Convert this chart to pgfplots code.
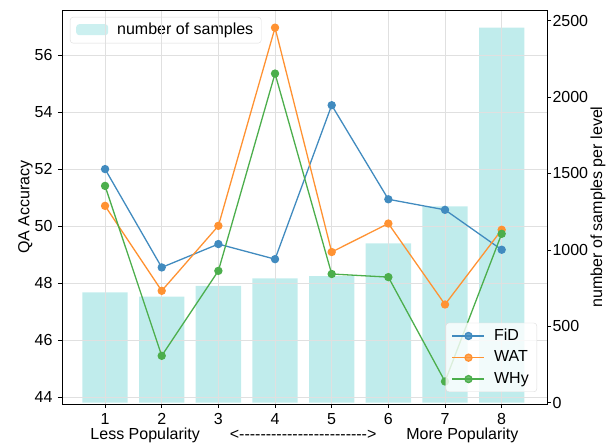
\documentclass[border=0pt]{standalone}
\usepackage{fontspec}
\setmainfont{Liberation Sans}
\usepackage{pgfplots}
\pgfplotsset{compat=1.18}

\definecolor{barc}{RGB}{192,236,236}
\definecolor{tabblue}{RGB}{31,119,180}
\definecolor{taborange}{RGB}{255,127,14}
\definecolor{tabgreen}{RGB}{44,160,44}
\definecolor{legedge}{RGB}{220,220,220}

\begin{document}
\fontsize{16}{19}\selectfont
\begin{tikzpicture}[font=\fontsize{16}{19}\selectfont]
\pgfplotsset{
  every axis/.append style={
    width=485pt, height=394pt, scale only axis,
    xmin=0.24, xmax=8.8,
    /pgf/number format/assume math mode=true,
    /pgf/number format/set thousands separator={},
    tick align=outside, major tick length=4pt,
    tick style={black, line width=0.6pt},
    axis line style={line width=0.8pt, black},
  },
  lgd/.style={
    draw=legedge, rounded corners=3pt, fill=white, fill opacity=0.8,
    text opacity=1, legend cell align=left, inner xsep=6pt, inner ysep=4pt,
    font=\fontsize{16}{19}\selectfont,
    /tikz/every odd column/.append style={column sep=7pt},
  },
}
% samples per popularity level (right axis)
\begin{axis}[
  hide x axis,
  axis y line*=right,
  ymin=-8.5, ymax=2570,
  ytick={0,500,...,2500},
  yticklabel style={xshift=-4pt},
  ylabel={number of samples per level},
  every axis y label/.style={at={(axis description cs:1,0.5)}, anchor=center,
    xshift=51pt, rotate=90},
  legend image code/.code={\fill[barc] (0pt,-5pt) rectangle (32pt,6pt);},
  legend style={lgd, at={(0,1)}, anchor=north west, xshift=8pt, yshift=-7pt},
]
\addplot[ybar, bar width=0.8, fill=barc, draw=none] coordinates {
  (1,722) (2,694) (3,764) (4,814) (5,829) (6,1043) (7,1285) (8,2454)};
\addlegendentry{number of samples}
\end{axis}
% QA accuracy (left axis)
\begin{axis}[
  ymin=43.76, ymax=57.58,
  ytick={44,46,...,56},
  xtick={1,...,8},
  ytick pos=left, xtick pos=bottom,
  grid=major, grid style={black!12, line width=0.6pt},
  ylabel={QA Accuracy},
  ylabel shift=-9pt,
  xlabel={Less Popularity\hspace{30pt}<{-}{-}{-}{-}{-}{-}{-}{-}{-}{-}{-}{-}{-}{-}{-}{-}{-}{-}{-}{-}{-}{-}{-}{-}>\hspace{30pt}More Popularity},
  xlabel style={yshift=8pt},
  every axis plot/.append style={line width=1.3pt, mark=*, mark size=3.5pt},
  legend image code/.code={\draw[mark repeat=2, mark phase=2] plot coordinates {(0pt,0pt) (16pt,0pt) (32pt,0pt)};},
  legend style={lgd, at={(1,0)}, anchor=south east, xshift=-10pt, yshift=12pt,
    row sep=4pt},
]
\addplot[color=tabblue!85!white] coordinates {
  (1,52.0) (2,48.55) (3,49.37) (4,48.84) (5,54.24) (6,50.94) (7,50.57) (8,49.17)};
\addlegendentry{FiD}
\addplot[color=taborange!85!white] coordinates {
  (1,50.71) (2,47.73) (3,50.01) (4,56.96) (5,49.09) (6,50.09) (7,47.25) (8,49.87)};
\addlegendentry{WAT}
\addplot[color=tabgreen!85!white] coordinates {
  (1,51.41) (2,45.45) (3,48.43) (4,55.35) (5,48.32) (6,48.21) (7,44.55) (8,49.73)};
\addlegendentry{WHy}
\end{axis}
\pgfresetboundingbox
\path (-62pt,-39pt) rectangle (544pt,404pt);
\end{tikzpicture}
\end{document}
